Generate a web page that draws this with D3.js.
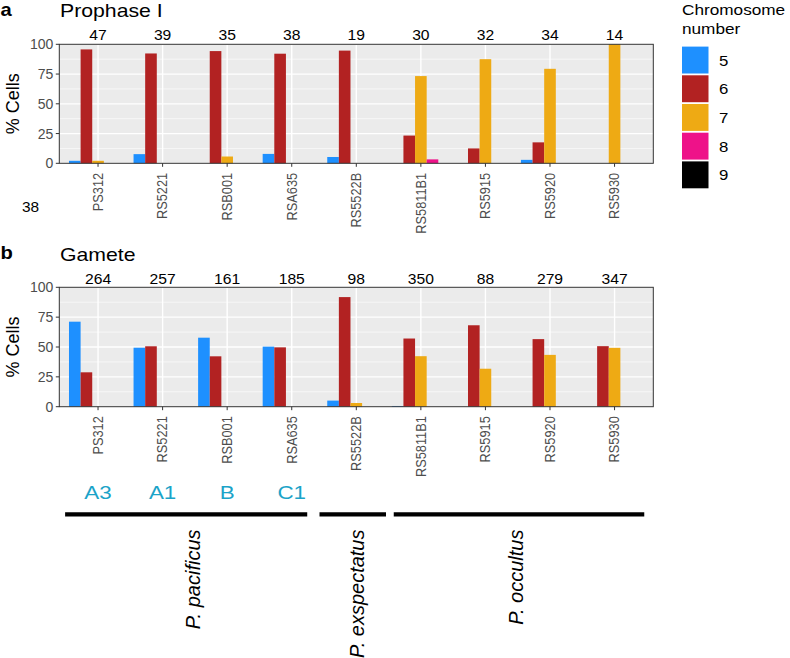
<!DOCTYPE html>
<html>
<head>
<meta charset="utf-8">
<script src="https://cdn.jsdelivr.net/npm/d3@7"></script>
<style>
  html, body { margin: 0; padding: 0; background: #ffffff; }
  svg { display: block; font-family: "Liberation Sans", Arial, Helvetica, sans-serif; }
</style>
</head>
<body>
<svg id="chart" width="790" height="658"></svg>
<script>
// ---------- DATA ----------
const categories = ["PS312", "RS5221", "RSB001", "RSA635", "RS5522B", "RS5811B1", "RS5915", "RS5920", "RS5930"];
const chromosomeNumbers = ["5", "6", "7", "8", "9"];
const chromosomeColors = ["#1E90FF", "#B22222", "#EEAA14", "#EE1289", "#000000"];
const yTicks = [0, 25, 50, 75, 100];

const prophaseCounts = [47, 39, 35, 38, 19, 30, 32, 34, 14];
const prophase5 = [2.1, 7.7, 0, 7.9, 5.3, 0, 0, 2.9, 0];
const prophase6 = [95.7, 92.3, 94.3, 92.1, 94.7, 23.3, 12.5, 17.6, 0];
const prophase7 = [2.1, 0, 5.7, 0, 0, 73.3, 87.5, 79.4, 100];
const prophase8 = [0, 0, 0, 0, 0, 3.3, 0, 0, 0];
const prophase9 = [0, 0, 0, 0, 0, 0, 0, 0, 0];

const gameteCounts = [264, 257, 161, 185, 98, 350, 88, 279, 347];
const gamete5 = [71.2, 49.4, 57.8, 50.3, 5.1, 0.6, 0, 0, 0];
const gamete6 = [28.8, 50.6, 42.2, 49.7, 91.8, 57.1, 68.2, 56.6, 50.7];
const gamete7 = [0, 0, 0, 0, 3.1, 42.3, 31.8, 43.4, 49.3];
const gamete8 = [0, 0, 0, 0, 0, 0, 0, 0, 0];
const gamete9 = [0, 0, 0, 0, 0, 0, 0, 0, 0];

const strainLabels = ["A3", "A1", "B", "C1"];            // under first four categories
const speciesNames = ["P. pacificus", "P. exspectatus", "P. occultus"];
// species bars, in category-index units (hand-drawn extents)
const speciesFrom = [-0.51, 3.43, 4.58];
const speciesTo = [3.24, 4.46, 8.46];
const speciesLabelAt = [1.47, 4.01, 6.47];
const strayLabel = "38";

// ---------- LAYOUT ----------
const svg = d3.select("#chart");
const plotLeft = 59.3, plotRight = 653.3;
const panels = [
  { letter: "a", title: "Prophase I", top: 44.3, bottom: 163.3, counts: prophaseCounts,
    series: [prophase5, prophase6, prophase7, prophase8, prophase9], titleY: 16.5, letterY: 15.5, countY: 39.5 },
  { letter: "b", title: "Gamete", top: 287.3, bottom: 406.7, counts: gameteCounts,
    series: [gamete5, gamete6, gamete7, gamete8, gamete9], titleY: 260.5, letterY: 258.5, countY: 284 }
];

// ggplot-like discrete axis: each category 1 unit, 0.6 expansion each side
const unit = (plotRight - plotLeft) / (categories.length - 1 + 1.2);
const xIdx = d3.scaleLinear().domain([-0.6, categories.length - 1 + 0.6]).range([plotLeft, plotRight]);
const xCenter = c => xIdx(categories.indexOf(c));
const xDodge = d3.scaleBand().domain(chromosomeNumbers).range([-0.45 * unit, 0.45 * unit]).padding(0);
const color = d3.scaleOrdinal().domain(chromosomeNumbers).range(chromosomeColors);

function txt(sel, px, py, s, o) {
  o = o || {};
  return sel.append("text")
    .attr("transform", `translate(${px},${py}) scale(${o.sx || 1},1)${o.rot ? " rotate(-90)" : ""}`)
    .attr("font-size", o.size || 14)
    .attr("font-weight", o.weight || "normal")
    .attr("font-style", o.style || "normal")
    .attr("fill", o.fill || "#000")
    .attr("text-anchor", o.anchor || "start")
    .text(s);
}

panels.forEach(p => {
  const y = d3.scaleLinear().domain([0, 100]).range([p.bottom, p.top]);
  const g = svg.append("g");

  // background
  g.append("rect").attr("x", plotLeft).attr("y", p.top)
    .attr("width", plotRight - plotLeft).attr("height", p.bottom - p.top).attr("fill", "#EBEBEB");

  // minor grid
  const minor = [12.5, 37.5, 62.5, 87.5];
  g.selectAll(".minor").data(minor).join("line")
    .attr("x1", plotLeft).attr("x2", plotRight)
    .attr("y1", d => y(d)).attr("y2", d => y(d))
    .attr("stroke", "#fff").attr("stroke-width", 0.6);
  // major grid
  g.selectAll(".majorY").data(yTicks).join("line")
    .attr("x1", plotLeft).attr("x2", plotRight)
    .attr("y1", d => y(d)).attr("y2", d => y(d))
    .attr("stroke", "#fff").attr("stroke-width", 1.3);
  g.selectAll(".majorX").data(categories).join("line")
    .attr("x1", d => xCenter(d)).attr("x2", d => xCenter(d))
    .attr("y1", p.top).attr("y2", p.bottom)
    .attr("stroke", "#fff").attr("stroke-width", 1.4);

  // bars
  const rows = [];
  categories.forEach((c, i) => {
    chromosomeNumbers.forEach((k, j) => {
      rows.push({ c, k, v: p.series[j][i] });
    });
  });
  g.selectAll(".bar").data(rows.filter(d => d.v > 0)).join("rect")
    .attr("x", d => xCenter(d.c) + xDodge(d.k))
    .attr("width", xDodge.bandwidth())
    .attr("y", d => y(d.v))
    .attr("height", d => y(0) - y(d.v))
    .attr("fill", d => color(d.k));

  // border
  g.append("rect").attr("x", plotLeft).attr("y", p.top)
    .attr("width", plotRight - plotLeft).attr("height", p.bottom - p.top)
    .attr("fill", "none").attr("stroke", "#333").attr("stroke-width", 1);

  // y axis ticks + labels
  g.selectAll(".ytick").data(yTicks).join("line")
    .attr("x1", plotLeft - 3.5).attr("x2", plotLeft)
    .attr("y1", d => y(d)).attr("y2", d => y(d))
    .attr("stroke", "#333").attr("stroke-width", 1);
  yTicks.forEach(t => {
    txt(g, plotLeft - 6, y(t) + 5, String(t), { size: 14, anchor: "end", fill: "#4D4D4D" });
  });

  // x ticks + labels
  g.selectAll(".xtick").data(categories).join("line")
    .attr("x1", d => xCenter(d)).attr("x2", d => xCenter(d))
    .attr("y1", p.bottom).attr("y2", p.bottom + 3.5)
    .attr("stroke", "#333").attr("stroke-width", 1);
  categories.forEach(c => {
    txt(g, xCenter(c) + 4.8, p.bottom + 9.5, c, { size: 12.8, anchor: "end", fill: "#4D4D4D", rot: true, sx: 1.1 });
  });

  // counts on top
  categories.forEach((c, i) => {
    txt(g, xCenter(c), p.countY, String(p.counts[i]), { size: 14, anchor: "middle", sx: 1.12 });
  });

  // y title
  txt(g, 18.5, (p.top + p.bottom) / 2, "% Cells", { size: 18, anchor: "middle", rot: true });

  // panel letter and title
  txt(g, 0.5, p.letterY, p.letter, { size: 18, weight: "bold", sx: 1.12 });
  txt(g, 60, p.titleY, p.title, { size: 18, sx: 1.18 });
});

// stray label
txt(svg, 30.5, 212, strayLabel, { size: 14, anchor: "middle", sx: 1.1 });

// ---------- LEGEND ----------
const lg = svg.append("g");
txt(lg, 682, 15, "Chromosome", { size: 15.5, sx: 1.11 });
txt(lg, 682, 33.5, "number", { size: 15.5, sx: 1.11 });
const keyY = d3.scaleBand().domain(chromosomeNumbers).range([46, 46 + 28.7 * chromosomeNumbers.length]).paddingInner(0);
lg.selectAll(".key").data(chromosomeNumbers).join("rect")
  .attr("x", 682).attr("y", d => keyY(d) + 0.6)
  .attr("width", 26.5).attr("height", keyY.bandwidth() - 1.8)
  .attr("fill", d => color(d));
chromosomeNumbers.forEach(k => {
  txt(lg, 719, keyY(k) + keyY.bandwidth() / 2 + 5.2, k, { size: 15, sx: 1.12 });
});

// ---------- STRAIN & SPECIES ANNOTATIONS ----------
const ann = svg.append("g");
strainLabels.forEach((s, i) => {
  txt(ann, xIdx(i), 499, s, { size: 19, anchor: "middle", fill: "#1BA3C8", sx: 1.18 });
});
speciesNames.forEach((s, i) => {
  ann.append("line")
    .attr("x1", xIdx(speciesFrom[i])).attr("x2", xIdx(speciesTo[i]))
    .attr("y1", 514.3).attr("y2", 514.3)
    .attr("stroke", "#000").attr("stroke-width", 4.2);
  txt(ann, xIdx(speciesLabelAt[i]) + 7, 529.5, s, { size: 20, style: "italic", anchor: "end", rot: true });
});
</script>
</body>
</html>
